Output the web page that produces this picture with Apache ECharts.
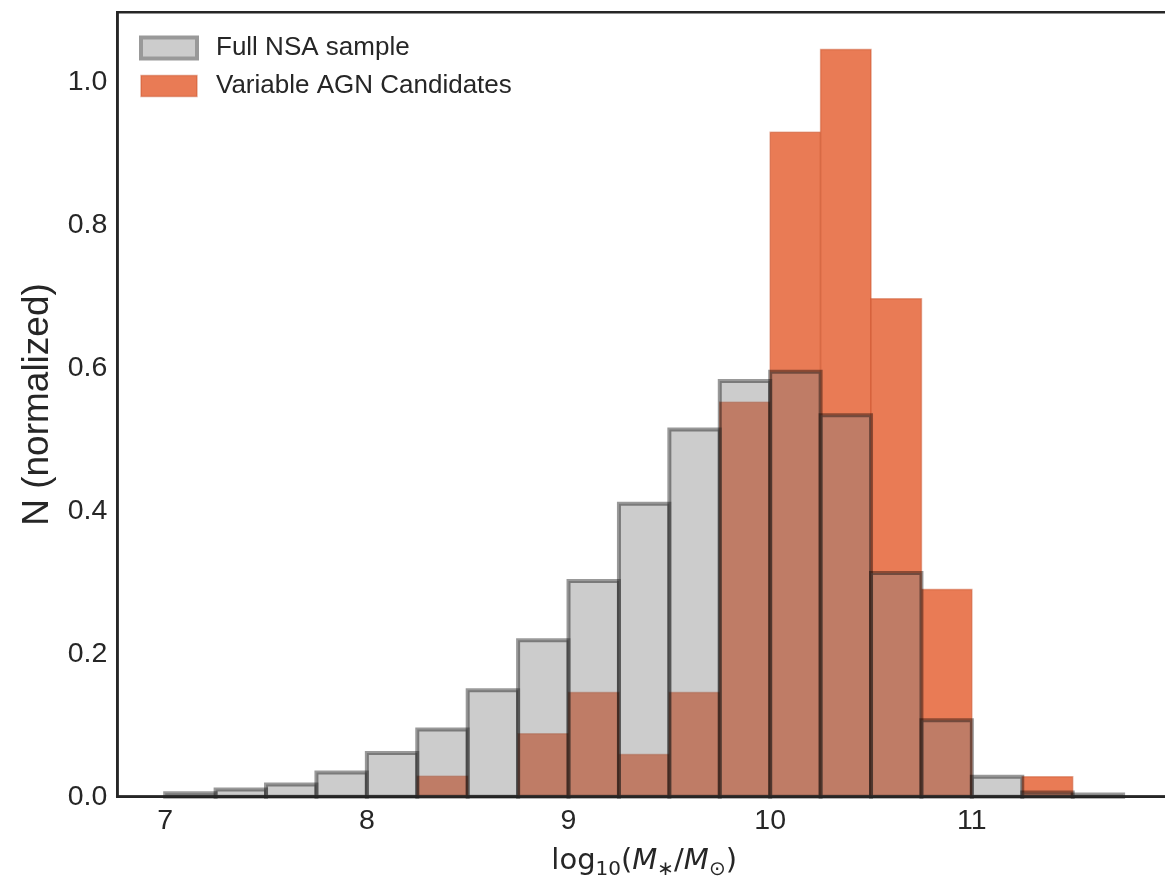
<!DOCTYPE html>
<html><head><meta charset="utf-8">
<script src="https://cdn.jsdelivr.net/npm/echarts@6/dist/echarts.min.js"></script>
<style>html,body{margin:0;padding:0;background:#fff}#c{width:1165px;height:878px}</style>
</head><body><div id="c"></div>
<script>
// Histogram bin edges (log10 stellar mass)
const binEdges = [7.0, 7.25, 7.5, 7.75, 8.0, 8.25, 8.5, 8.75, 9.0, 9.25, 9.5, 9.75, 10.0, 10.25, 10.5, 10.75, 11.0, 11.25, 11.5, 11.75];
// Normalized counts per bin
const fullNSA = [0.005, 0.010, 0.017, 0.034, 0.061, 0.094, 0.149, 0.219, 0.302, 0.410, 0.514, 0.582, 0.595, 0.534, 0.313, 0.107, 0.028, 0.006, 0.003];
const agnCandidates = [0, 0, 0, 0, 0, 0.0285, 0, 0.088, 0.146, 0.059, 0.146, 0.552, 0.930, 1.046, 0.697, 0.290, 0, 0.028, 0];
const xTicks = [7, 8, 9, 10, 11];
const yTicks = [0, 0.2, 0.4, 0.6, 0.8, 1.0];
const seriesNames = ['Full NSA sample', 'Variable AGN Candidates'];

const FONT = 'Liberation Sans, Arial, sans-serif';
const INK = '#262626';

function toBins(vals) {
  return vals.map((v, i) => [binEdges[i], binEdges[i + 1], v]);
}
function makeRender(style) {
  return function (params, api) {
    const v = api.value(2);
    if (!(v > 0)) return null;
    const p0 = api.coord([api.value(0), v]);
    const p1 = api.coord([api.value(1), 0]);
    return {
      type: 'rect',
      shape: { x: p0[0], y: p0[1], width: p1[0] - p0[0], height: p1[1] - p0[1] },
      style: Object.assign({}, style)
    };
  };
}

const grayStyle = { fill: 'rgba(128,128,128,0.4)', stroke: 'rgba(0,0,0,0.4)', lineWidth: 4 };
const orangeStyle = { fill: '#e97b55', stroke: 'rgba(200,80,40,0.45)', lineWidth: 1.5 };

const chart = echarts.init(document.getElementById('c'), null, { renderer: 'canvas' });
chart.setOption({
  animation: false,
  backgroundColor: '#fff',
  grid: {
    left: 117.3, width: 1053.7, top: 12.3, height: 784.4,
    outerBoundsMode: 'none', containLabel: false,
    show: true, borderColor: INK, borderWidth: 2.5, backgroundColor: '#fff'
  },
  legend: {
    orient: 'vertical', left: 139, top: 35, icon: 'rect', padding: 0,
    itemWidth: 56, itemHeight: 21, itemGap: 12,
    textStyle: { fontFamily: FONT, fontSize: 26, color: INK, lineHeight: 26, padding: [0, 0, 0, 14] },
    data: [
      { name: seriesNames[0], itemStyle: { color: '#cccccc', borderColor: '#999999', borderWidth: 4 } },
      { name: seriesNames[1], itemStyle: { color: '#e97b55', borderColor: 'rgba(200,80,40,0.45)', borderWidth: 1.5 } }
    ]
  },
  xAxis: {
    type: 'value', min: 6.7625, max: 11.9875, z: 10,
    axisLine: { show: true, onZero: false, lineStyle: { color: INK, width: 2.5 } },
    axisTick: { show: false },
    splitLine: { show: false },
    axisLabel: { customValues: xTicks, fontFamily: FONT, fontSize: 28.5, color: INK, margin: 10, formatter: v => String(v) },
    name: '{a|log}{s|10}{a|(}{i|M}{s|∗}{a|/}{i|M}{s|⊙}{a|)}',
    nameLocation: 'middle', nameGap: 45,
    nameTextStyle: {
      color: INK,
      rich: {
        a: { fontFamily: 'DejaVu Sans', fontSize: 29, color: INK, lineHeight: 34, verticalAlign: 'bottom' },
        i: { fontFamily: 'DejaVu Sans', fontStyle: 'italic', fontSize: 29, color: INK, lineHeight: 34, verticalAlign: 'bottom' },
        s: { fontFamily: 'DejaVu Sans', fontSize: 20, color: INK, lineHeight: 20, verticalAlign: 'bottom', padding: [0, 0, -4, 0] }
      }
    }
  },
  yAxis: {
    type: 'value', min: 0, max: 1.098, z: 10,
    axisLine: { show: true, lineStyle: { color: INK, width: 2.5 } },
    axisTick: { show: false },
    splitLine: { show: false },
    axisLabel: { customValues: yTicks, fontFamily: FONT, fontSize: 28.5, color: INK, margin: 10, formatter: v => v.toFixed(1) },
    name: 'N (normalized)', nameLocation: 'middle', nameGap: 61,
    nameTextStyle: { fontFamily: FONT, fontSize: 37, color: INK }
  },
  series: [
    {
      type: 'custom', name: seriesNames[1], z: 2,
      data: toBins(agnCandidates), encode: { x: [0, 1], y: 2 },
      itemStyle: { color: '#e97b55' },
      renderItem: makeRender(orangeStyle)
    },
    {
      type: 'custom', name: seriesNames[0], z: 3,
      data: toBins(fullNSA), encode: { x: [0, 1], y: 2 },
      itemStyle: { color: 'rgba(128,128,128,0.4)' },
      renderItem: makeRender(grayStyle)
    }
  ]
});
</script>
</body></html>
